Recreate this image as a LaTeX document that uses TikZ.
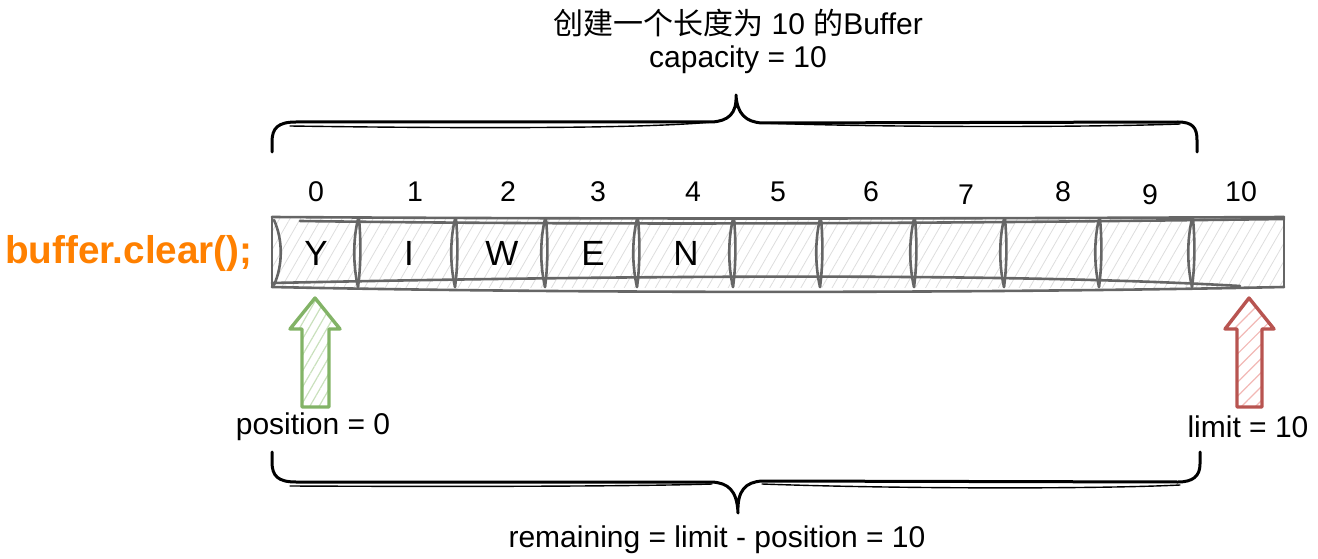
\documentclass[tikz,border=0pt]{standalone}
\usepackage{fontspec}
\setmainfont{Liberation Sans}
\newfontfamily\cjk{Noto Sans CJK SC}
\usetikzlibrary{patterns.meta}
\definecolor{bufline}{HTML}{666666}
\definecolor{hatchgray}{HTML}{DDDDDD}
\definecolor{greenst}{HTML}{82B366}
\definecolor{greenfill}{HTML}{C9E0BC}
\definecolor{redst}{HTML}{B85450}
\definecolor{redfill}{HTML}{F2B8B5}
\definecolor{orangetxt}{HTML}{FF8000}
\tikzset{
  txt/.style={inner sep=0pt, font=\fontsize{30}{34}\selectfont},
  idx/.style={inner sep=0pt, font=\fontsize{28.5}{32}\selectfont},
  letter/.style={inner sep=0pt, font=\fontsize{35}{38}\selectfont},
  bufstroke/.style={draw=bufline, line width=2.6pt, line cap=round, line join=round},
  brace/.style={draw=black, line width=3pt, line cap=round, line join=round},
  arrowshape/.style={line width=3.4pt, line join=round, line cap=round},
}
\begin{document}
\begin{tikzpicture}[x=1pt,y=-1pt]
\useasboundingbox (0,0) rectangle (1318,559);
% titles
\node[txt] (title) at (738,23) {{\cjk 创建一个长度为} 10 {\cjk 的}Buffer};
\node[txt] (cap) at (738,60) {capacity = 10};
\node[inner sep=0pt, font=\fontsize{38.7}{42}\selectfont\bfseries, text=orangetxt] (cmd) at (129,253) {buffer.clear();};
% buffer background hatching
\fill[pattern={Lines[angle=60,distance=9pt,line width=0.8pt]}, pattern color=hatchgray]
  (272,218) rectangle (1284,287);
% outline (sketchy)
\draw[bufstroke] (272,217) .. controls (600,219) and (900,219) .. (1284,217);
\draw[bufstroke] (300,221) .. controls (600,225) and (900,224) .. (1284,219);
\draw[bufstroke] (272,287) .. controls (600,294) and (1000,293) .. (1284,287);
\draw[bufstroke] (272,283) .. controls (600,276) and (1000,272) .. (1240,286);
\draw[bufstroke] (272,217) -- (272,287) (1284,217) -- (1284,287);
\draw[bufstroke] (274,220) .. controls (283,240) and (283,265) .. (274,285);
% dividers
\foreach \x in {358,455,545,637,733,820,914,1004,1099,1192}{
  \draw[bufstroke] (\x,219) .. controls (\x-5,240) and (\x-5,265) .. (\x,287);
  \draw[bufstroke] (\x+1,219) .. controls (\x+3,240) and (\x+3,265) .. (\x,287);
}
% letters
\node[letter] (cY) at (316,253) {Y};
\node[letter] (cI) at (409,253) {I};
\node[letter] (cW) at (502,253) {W};
\node[letter] (cE) at (593,253) {E};
\node[letter] (cN) at (686,253) {N};
% indices
\node[idx] (i0) at (316,192) {0};
\node[idx] (i1) at (415,192) {1};
\node[idx] (i2) at (508,192) {2};
\node[idx] (i3) at (598,192) {3};
\node[idx] (i4) at (693,192) {4};
\node[idx] (i5) at (778,192) {5};
\node[idx] (i6) at (871,192) {6};
\node[idx] (i7) at (966,195) {7};
\node[idx] (i8) at (1063,192) {8};
\node[idx] (i9) at (1150,195) {9};
\node[idx] (i10) at (1241,192) {10};
% top brace
\draw[brace] (272,152) -- (272,142) .. controls (272,128) and (278,122) .. (296,122)
  -- (712,122) .. controls (728,121) and (737,114) .. (736,95)
  .. controls (737,114) and (746,122) .. (762,123)
  -- (1178,122) .. controls (1193,122) and (1197,128) .. (1197,140) -- (1197,152);
\draw[brace, line width=1.4pt] (290,126) .. controls (500,129) and (650,128) .. (712,122);
\draw[brace, line width=1.4pt] (762,123) .. controls (900,128) and (1100,127) .. (1180,124);
% bottom brace
\draw[brace] (272,452) -- (272,462) .. controls (272,476) and (278,482) .. (296,482)
  -- (712,482) .. controls (728,483) and (737,490) .. (738,513)
  .. controls (737,490) and (746,482) .. (762,481)
  -- (1178,482) .. controls (1193,482) and (1200,476) .. (1200,464) -- (1200,452);
\draw[brace, line width=1.4pt] (290,486) .. controls (500,487) and (650,486) .. (712,484);
\draw[brace, line width=1.4pt] (762,484) .. controls (900,489) and (1100,489) .. (1180,485);
\node[txt] (rem) at (717,540) {remaining = limit - position = 10};
% green arrow (position)
\coordinate (gtip) at (315,298);
\path[arrowshape, draw=greenst, pattern={Lines[angle=60,distance=8pt,line width=1.2pt]}, pattern color=greenfill]
  (gtip) -- (340,329) -- (329,329) -- (329,407) -- (302,407) -- (302,329) -- (290,329) -- cycle;
\node[txt] (pos) at (313,427) {position = 0};
% red arrow (limit)
\coordinate (rtip) at (1249,298);
\path[arrowshape, draw=redst, pattern={Lines[angle=45,distance=10pt,line width=1.2pt]}, pattern color=redfill]
  (rtip) -- (1274,329) -- (1262,329) -- (1262,407) -- (1237,407) -- (1237,329) -- (1225,329) -- cycle;
\node[txt] (lim) at (1248,427) {limit = 10};
\end{tikzpicture}
\end{document}
